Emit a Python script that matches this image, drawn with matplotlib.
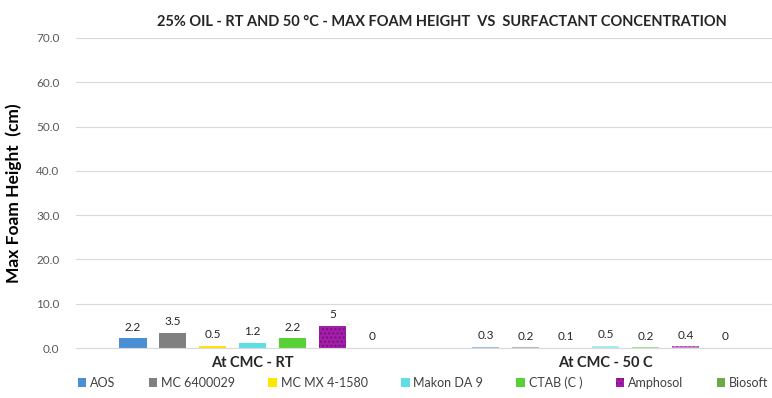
import matplotlib.pyplot as plt
import numpy as np

plt.rcParams['font.family'] = ['Lato', 'DejaVu Sans']

# данные
groups = ['At CMC - RT', 'At CMC - 50 C']
surfactants = ['AOS', 'MC 6400029', 'MC MX 4-1580', 'Makon DA 9', 'CTAB (C )', 'Amphosol', 'Biosoft']
rt_values = [2.2, 3.5, 0.5, 1.2, 2.2, 5, 0]
hot_values = [0.3, 0.2, 0.1, 0.5, 0.2, 0.4, 0]
colors = ['#4A8FD6', '#808080', '#FFE500', '#5EDFE4', '#58D136', '#A21FA8', '#6DAA45']

fig = plt.figure(figsize=(7.72, 3.98), dpi=100)
ax = fig.add_axes([0.0985, 0.1256, 0.9145, 0.779])

x = np.arange(len(groups))
slot = 0.1133
width = 0.079

for i, name in enumerate(surfactants):
    vals = [rt_values[i], hot_values[i]]
    pos = x + (i - 3) * slot
    hatch = '....' if name == 'Amphosol' else None
    bars_rt = ax.bar(pos[0], vals[0], width, color=colors[i], hatch=hatch,
                     edgecolor='#7A1080' if hatch else colors[i], linewidth=0, label=name)
    bars_hot = ax.bar(pos[1], vals[1], width, color=colors[i], alpha=0.55, hatch=hatch,
                      edgecolor='#7A1080' if hatch else colors[i], linewidth=0)
    for b, v in zip([bars_rt[0], bars_hot[0]], vals):
        ax.annotate(f'{v:g}', (b.get_x() + b.get_width() / 2, v),
                    xytext=(0, 4), textcoords='offset points',
                    ha='center', va='bottom', fontsize=8.5, color='#262626')

ax.set_xlim(-0.5, 1.5)
ax.set_ylim(0, 70)
ax.set_yticks(np.arange(0, 71, 10))
ax.set_yticklabels([f'{t:.1f}' for t in np.arange(0, 71, 10)], fontsize=8.5, color='#595959')
ax.set_xticks(x)
ax.set_xticklabels(groups, fontsize=10.5, fontweight='bold', color='#262626')
ax.tick_params(axis='both', length=0)
ax.tick_params(axis='y', pad=12)
ax.tick_params(axis='x', pad=6)

ax.grid(axis='y', color='#D9D9D9', linewidth=0.8)
ax.set_axisbelow(True)
for s in ['top', 'right', 'left']:
    ax.spines[s].set_visible(False)
ax.spines['bottom'].set_color('#D9D9D9')

ax.set_ylabel('Max Foam Height  (cm)', fontsize=12.5, fontweight='bold', color='#000000', labelpad=10)
fig.text(0.572, 0.945, '25% OIL - RT AND 50 °C - MAX FOAM HEIGHT  VS  SURFACTANT CONCENTRATION',
         ha='center', va='center', fontsize=10.5, fontweight='bold', color='#262626')

handles, labels = ax.get_legend_handles_labels()
fig.legend(handles, labels, loc='center', bbox_to_anchor=(0.548, 0.038), ncol=7,
           frameon=False, fontsize=9, handlelength=0.7, handleheight=0.7,
           handletextpad=0.3, columnspacing=2.65, labelcolor='#404040')

plt.savefig('out.png', dpi=100)
plt.close()
